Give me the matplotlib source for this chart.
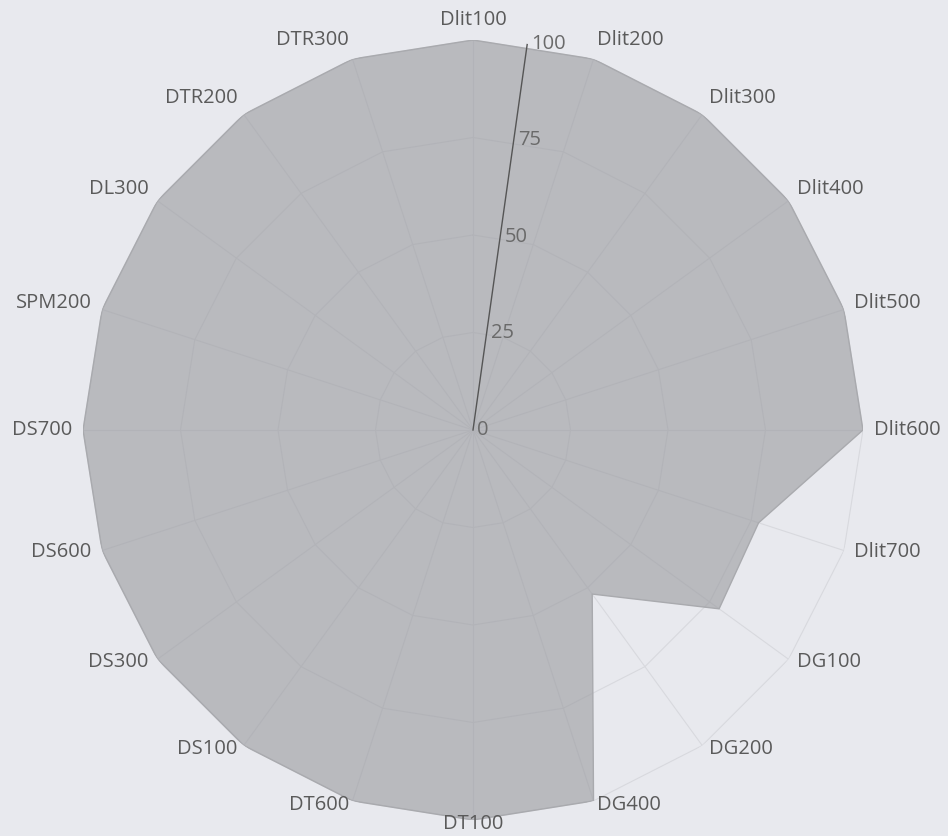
import matplotlib.pyplot as plt
import numpy as np

categories = ['Dlit100', 'Dlit200', 'Dlit300', 'Dlit400', 'Dlit500', 'Dlit600',
              'Dlit700', 'DG100', 'DG200', 'DG400', 'DT100', 'DT600', 'DS100',
              'DS300', 'DS600', 'DS700', 'SPM200', 'DL300', 'DTR200', 'DTR300']
values = [100, 100, 100, 100, 100, 100, 77, 78, 52, 100,
          100, 100, 100, 100, 100, 100, 100, 100, 100, 100]
rticks = [0, 25, 50, 75, 100]

bg = '#e8e9ee'
n = len(categories)
theta = np.linspace(0, 2 * np.pi, n, endpoint=False)
theta_c = np.append(theta, theta[0])
vals_c = np.append(values, values[0])

fig = plt.figure(figsize=(9.48, 8.36), dpi=100)
fig.patch.set_facecolor(bg)
ax = fig.add_axes([83 / 948, 16 / 836, 780 / 948, 780 / 836], projection='polar')
ax.patch.set_alpha(0)
ax.set_theta_zero_location('N')
ax.set_theta_direction(-1)
ax.set_ylim(0, 100)
ax.spines['polar'].set_visible(False)
ax.grid(False)
ax.set_yticks([])
ax.set_xticks([])

# polygon grid
for r in rticks[1:]:
    ax.plot(theta_c, [r] * (n + 1), color='#d8d9de', linewidth=0.8, zorder=1)
for t in theta:
    ax.plot([t, t], [0, 100], color='#d8d9de', linewidth=0.8, zorder=1)

# data
ax.fill(theta_c, vals_c, color='#9c9da1', alpha=0.62, zorder=2, linewidth=0)
ax.plot(theta_c, vals_c, color='#a9aaae', linewidth=1, zorder=3)

# radial axis
ang = np.deg2rad(8)
ax.plot([ang, ang], [0, 100], color='#555555', linewidth=1, zorder=4)
for r in rticks:
    ax.annotate(str(r), xy=(ang, r), xytext=(3, 0), textcoords='offset points',
                ha='left', va='center', fontsize=14.5, color='#6a6a6a',
                family='Open Sans', zorder=5)

# angular labels
for t, lab in zip(theta, categories):
    s, c = np.sin(t), np.cos(t)
    ha = 'left' if s > 0.1 else ('right' if s < -0.1 else 'center')
    dy = c * (20 if c > 0 else 4)
    ax.annotate(lab, xy=(t, 100), xytext=(11 * s, dy), textcoords='offset pixels',
                ha=ha, va='center', fontsize=14.5, color='#5a5a5a',
                family='Open Sans', annotation_clip=False)

plt.savefig('out.png', dpi=100, facecolor=bg)
